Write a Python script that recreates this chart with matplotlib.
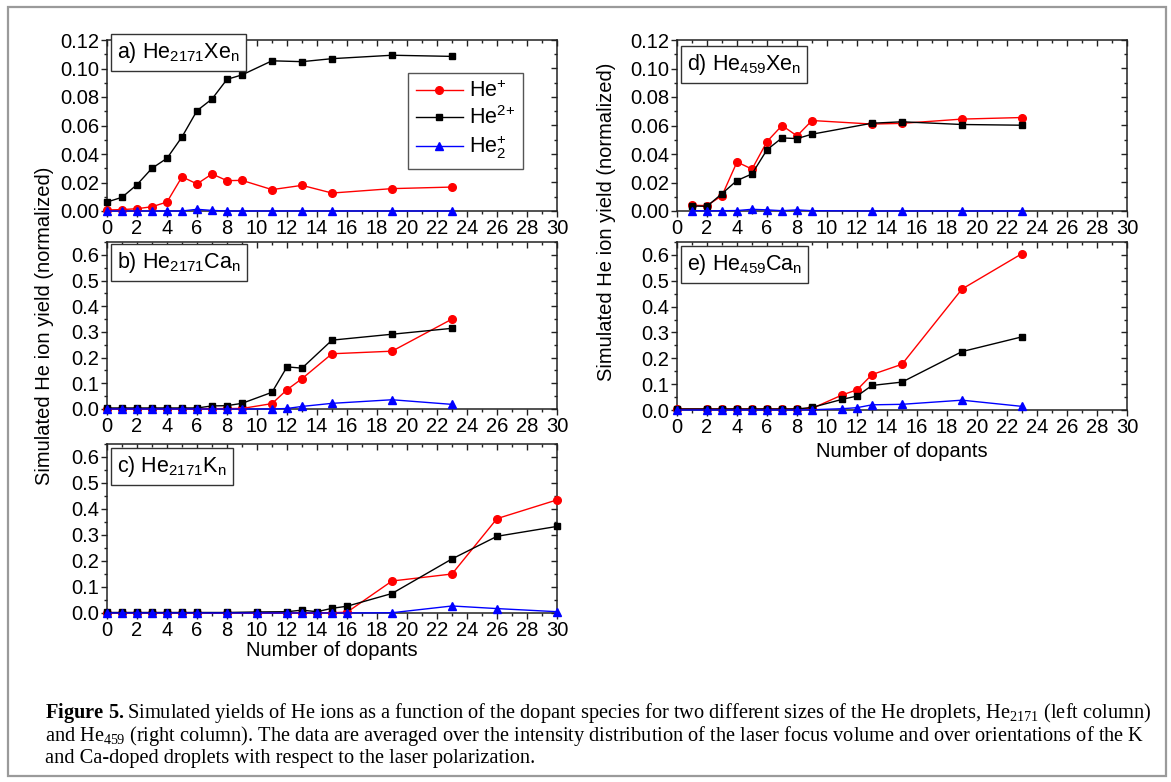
import matplotlib
matplotlib.use('Agg')
import matplotlib.pyplot as plt
from matplotlib.ticker import MultipleLocator, FormatStrFormatter
from matplotlib.patches import Rectangle

# ---------------- data ----------------
# a) He2171 Xe_n
xa = [0, 1, 2, 3, 4, 5, 6, 7, 8, 9, 11, 13, 15, 19, 23]
a_he1 = [0.0007, 0.001, 0.0016, 0.003, 0.0063, 0.024, 0.019, 0.026, 0.0213, 0.0215, 0.015, 0.018, 0.0126, 0.0157, 0.0168]
a_he2p = [0.0063, 0.0096, 0.0185, 0.030, 0.037, 0.052, 0.0704, 0.0786, 0.0924, 0.0955, 0.1054, 0.1048, 0.1069, 0.1093, 0.1085]
a_he2 = [0, 0, 0, 0, 0, 0, 0.0012, 0.0004, 0, 0, 0, 0, 0, 0, 0]

# b) He2171 Ca_n
xb = [0, 1, 2, 3, 4, 5, 6, 7, 8, 9, 11, 12, 13, 15, 19, 23]
b_he1 = [0, 0, 0, 0, 0, 0, 0, 0.001, 0.002, 0.002, 0.021, 0.075, 0.118, 0.215, 0.225, 0.350]
b_he2p = [0.004, 0.004, 0.004, 0.004, 0.004, 0.004, 0.004, 0.012, 0.013, 0.022, 0.065, 0.164, 0.159, 0.268, 0.291, 0.314]
b_he2 = [0, 0, 0, 0, 0, 0, 0, 0, 0, 0, 0, 0.002, 0.010, 0.022, 0.036, 0.018]

# c) He2171 K_n
xc = [0, 1, 2, 3, 4, 5, 6, 8, 10, 12, 13, 14, 15, 16, 19, 23, 26, 30]
c_he1 = [0, 0, 0, 0, 0, 0, 0, 0, 0, 0, 0, 0, 0.001, 0.003, 0.123, 0.150, 0.363, 0.435]
c_he2p = [0.002, 0.002, 0.002, 0.002, 0.002, 0.002, 0.002, 0.002, 0.004, 0.005, 0.011, 0.005, 0.018, 0.026, 0.075, 0.208, 0.295, 0.333]
c_he2 = [0, 0, 0, 0, 0, 0, 0, 0, 0, 0, 0, 0, 0, 0, 0.001, 0.027, 0.017, 0.005]

# d) He459 Xe_n
xd = [1, 2, 3, 4, 5, 6, 7, 8, 9, 13, 15, 19, 23]
d_he1 = [0.0040, 0.0038, 0.0108, 0.0344, 0.0294, 0.0487, 0.0600, 0.0527, 0.0635, 0.0610, 0.0615, 0.0645, 0.0656]
d_he2p = [0.0035, 0.0033, 0.0122, 0.0214, 0.0260, 0.0430, 0.0513, 0.0508, 0.0539, 0.0616, 0.0626, 0.0607, 0.0602]
d_he2 = [0.0003, 0, 0.0002, 0.0003, 0.0012, 0.0008, 0.0002, 0.0008, 0.0002, 0, 0, 0, 0]

# e) He459 Ca_n
xe = [0, 2, 3, 4, 5, 6, 7, 8, 9, 11, 12, 13, 15, 19, 23]
e_he1 = [0.004, 0.004, 0.004, 0.004, 0.004, 0.004, 0.004, 0.004, 0.006, 0.058, 0.078, 0.137, 0.177, 0.468, 0.605]
e_he2p = [0.004, 0.004, 0.004, 0.004, 0.004, 0.004, 0.004, 0.004, 0.010, 0.041, 0.054, 0.095, 0.108, 0.226, 0.283]
e_he2 = [0, 0, 0, 0, 0, 0, 0, 0, 0.001, 0.005, 0.009, 0.020, 0.022, 0.038, 0.014]

titles = [r"a) He$_{\mathrm{2171}}$Xe$_{\mathrm{n}}$",
          r"b) He$_{\mathrm{2171}}$Ca$_{\mathrm{n}}$",
          r"c) He$_{\mathrm{2171}}$K$_{\mathrm{n}}$",
          r"d) He$_{\mathrm{459}}$Xe$_{\mathrm{n}}$",
          r"e) He$_{\mathrm{459}}$Ca$_{\mathrm{n}}$"]
series_labels = [r"He$^{+}$", r"He$^{2{+}}$", r"He$_{2}^{+}$"]
xticks_step = 2
ylabel = "Simulated He ion yield (normalized)"
xlabel = "Number of dopants"
caption = [
    r"$\mathbf{Figure\ 5.}$Simulated yields of He ions as a function of the dopant species for two different sizes of the He droplets, He$_{\mathsf{2171}}$ (left column)",
    r"and He$_{\mathsf{459}}$ (right column). The data are averaged over the intensity distribution of the laser focus volume and over orientations of the K",
    "and Ca-doped droplets with respect to the laser polarization.",
]

# ---------------- style ----------------
plt.rcParams.update({
    'font.family': ['Liberation Sans', 'DejaVu Sans'],
    'mathtext.fontset': 'custom',
    'mathtext.rm': 'Liberation Sans',
    'mathtext.it': 'Liberation Sans:italic',
    'mathtext.bf': 'Liberation Serif:bold',
    'mathtext.sf': 'Liberation Serif',
})

W, H = 1171, 782
fig = plt.figure(figsize=(W / 100, H / 100), dpi=100)


def rect(l, r, t, b):
    return [l / W, 1 - b / H, (r - l) / W, (b - t) / H]


SPINE = '#222222'


def setup(ax, ymax, ymaj, ymin, fmt):
    ax.set_xlim(0, 30)
    ax.set_ylim(0, ymax)
    ax.xaxis.set_major_locator(MultipleLocator(xticks_step))
    ax.xaxis.set_minor_locator(MultipleLocator(1))
    ax.yaxis.set_major_locator(MultipleLocator(ymaj))
    ax.yaxis.set_minor_locator(MultipleLocator(ymin))
    ax.yaxis.set_major_formatter(FormatStrFormatter(fmt))
    for s in ax.spines.values():
        s.set_color(SPINE)
        s.set_linewidth(1.1)
    ax.tick_params(which='both', direction='out', top=False, right=False,
                   labelsize=14.5, color=SPINE, pad=1.5)
    ax.tick_params(which='major', length=4, width=1)
    ax.tick_params(which='minor', length=2, width=1)
    top = ax.secondary_xaxis('top')
    top.xaxis.set_major_locator(MultipleLocator(xticks_step))
    top.xaxis.set_minor_locator(MultipleLocator(1))
    top.tick_params(which='both', direction='in', labeltop=False, color=SPINE)
    top.tick_params(which='major', length=4, width=1)
    top.tick_params(which='minor', length=2, width=1)
    top.spines['top'].set_visible(False)
    right = ax.secondary_yaxis('right')
    right.yaxis.set_major_locator(MultipleLocator(ymaj))
    right.yaxis.set_minor_locator(MultipleLocator(ymin))
    right.tick_params(which='both', direction='in', labelright=False, color=SPINE)
    right.tick_params(which='major', length=4, width=1)
    right.tick_params(which='minor', length=2, width=1)
    right.spines['right'].set_visible(False)


def plot3(ax, x, y1, y2, y3):
    l1, = ax.plot(x, y1, color='#ff0000', lw=1, marker='o', ms=5.5, mec='#ff0000', clip_on=False, zorder=3)
    l2, = ax.plot(x, y2, color='black', lw=1, marker='s', ms=4.8, mec='black', clip_on=False, zorder=4)
    l3, = ax.plot(x, y3, color='#0000ff', lw=1, marker='^', ms=5.5, mec='#0000ff', clip_on=False, zorder=5)
    return [l1, l2, l3]


def title_box(ax, txt, y):
    ax.text(0.022, y, txt, transform=ax.transAxes, fontsize=15.5, va='center', ha='left',
            bbox=dict(boxstyle='square,pad=0.28', fc='white', ec='#333333', lw=1), zorder=10)


axa = fig.add_axes(rect(107, 557, 40, 211))
axb = fig.add_axes(rect(107, 557, 242, 409))
axc = fig.add_axes(rect(107, 557, 444, 613))
axd = fig.add_axes(rect(677, 1127, 40, 211))
axe = fig.add_axes(rect(677, 1127, 242, 410))

setup(axa, 0.12, 0.02, 0.01, '%.2f')
setup(axd, 0.12, 0.02, 0.01, '%.2f')
for ax in (axb, axc, axe):
    setup(ax, 0.65, 0.1, 0.05, '%.1f')

handles = plot3(axa, xa, a_he1, a_he2p, a_he2)
plot3(axb, xb, b_he1, b_he2p, b_he2)
plot3(axc, xc, c_he1, c_he2p, c_he2)
plot3(axd, xd, d_he1, d_he2p, d_he2)
plot3(axe, xe, e_he1, e_he2p, e_he2)

title_box(axa, titles[0], 0.925)
title_box(axb, titles[1], 0.880)
title_box(axc, titles[2], 0.865)
title_box(axd, titles[3], 0.857)
title_box(axe, titles[4], 0.866)

leg = axa.legend(handles, series_labels, loc='upper left', bbox_to_anchor=(0.669, 0.807),
                 borderaxespad=0, fontsize=15.5, handlelength=2.2, handletextpad=0.3,
                 labelspacing=0.2, borderpad=0.35, fancybox=False, framealpha=1,
                 edgecolor='#555555')
leg.get_frame().set_linewidth(1)
leg.set_zorder(20)

fig.text(45 / W, 1 - 326 / H, ylabel, rotation=90, ha='center', va='center', fontsize=14.5)
fig.text(607 / W, 1 - 222 / H, ylabel, rotation=90, ha='center', va='center', fontsize=14.5)
fig.text(332 / W, 1 - 651 / H, xlabel, ha='center', va='center', fontsize=14.5)
fig.text(902 / W, 1 - 452 / H, xlabel, ha='center', va='center', fontsize=14.5)

# caption
cap_objs = []
for i, (line, yy) in enumerate(zip(caption, [713, 736, 759])):
    t = fig.text(45 / W, 1 - yy / H, line, ha='left', va='center', fontsize=13,
                 family=['Liberation Serif', 'DejaVu Serif'])
    cap_objs.append(t)
fig.canvas.draw()
r = fig.canvas.get_renderer()
wpx = cap_objs[0].get_window_extent(r).width
fs = 13 * (1148 - 45) / wpx
for t in cap_objs:
    t.set_fontsize(fs)

fig.add_artist(Rectangle((8 / W, 1 - 776 / H), (1166 - 8) / W, (776 - 7) / H,
                         transform=fig.transFigure, fill=False, ec='#9a9a9a', lw=1.6))

fig.savefig('out.png', dpi=100)
